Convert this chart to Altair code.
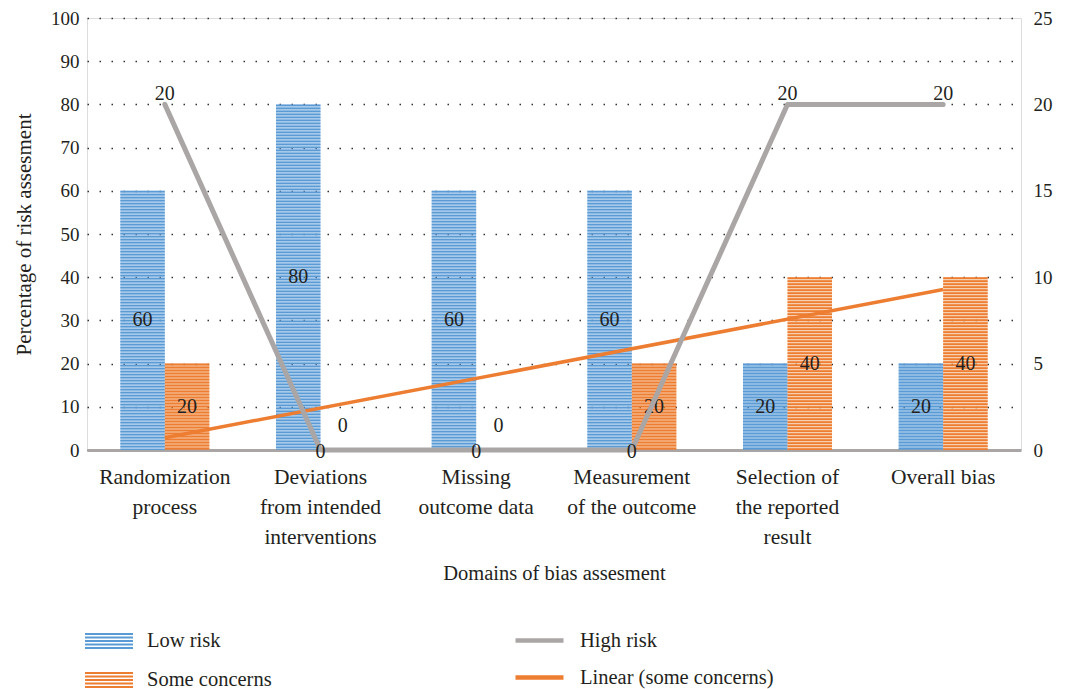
import json
import altair as alt
import pandas as pd

categories = [
    "Randomization process",
    "Deviations from intended interventions",
    "Missing outcome data",
    "Measurement of the outcome",
    "Selection of the reported result",
    "Overall bias",
]
label_lines = [
    ["Randomization", "process"],
    ["Deviations", "from intended", "interventions"],
    ["Missing", "outcome data"],
    ["Measurement", "of the outcome"],
    ["Selection of", "the reported", "result"],
    ["Overall bias"],
]
low_risk = [60, 80, 60, 60, 20, 20]
some_concerns = [20, 0, 0, 20, 40, 40]
high_risk = [20, 0, 0, 0, 20, 20]
bar_series = ["Low risk", "Some concerns"]
line_series = ["High risk", "Linear (some concerns)"]
left_ticks = [0, 10, 20, 30, 40, 50, 60, 70, 80, 90, 100]
right_ticks = [0, 5, 10, 15, 20, 25]

BLUE = "#5b9bd5"
ORANGE = "#ed7d31"
GRAY = "#aaa6a5"
FONT = "Liberation Serif"
TXT = "#231f20"

bars_df = pd.DataFrame({
    "cat": categories * 2,
    "series": [bar_series[0]] * 6 + [bar_series[1]] * 6,
    "value": low_risk + some_concerns,
    "idx": list(range(1, 7)) * 2,
})
hr_df = pd.DataFrame({"cat": categories, "hr": high_risk, "series": line_series[0]})

label_map = json.dumps(dict(zip(categories, label_lines)))

x_enc = alt.X(
    "cat:N",
    sort=categories,
    scale=alt.Scale(domain=categories, paddingInner=0.428, paddingOuter=0.214),
    axis=alt.Axis(
        title="Domains of bias assesment",
        labelExpr=f"{label_map}[datum.value]",
        labelAngle=0,
        labelFont=FONT, labelFontSize=21.5, labelColor=TXT, labelLineHeight=30,
        labelPadding=16, labelBaseline="top",
        titleFont=FONT, titleFontSize=20.5, titleColor=TXT, titleFontWeight="normal",
        titlePadding=16,
        domainColor=GRAY, domainWidth=3, ticks=False, grid=False,
    ),
)
xoff = alt.XOffset("series:N", sort=bar_series, scale=alt.Scale(domain=bar_series, paddingInner=0, paddingOuter=0))

y_left = alt.Y(
    "value:Q",
    scale=alt.Scale(domain=[0, 100]),
    axis=alt.Axis(
        values=left_ticks, grid=True, gridDash=[1.5, 10.5], gridColor="#333", gridWidth=1.3,
        domain=False, ticks=False, labelPadding=8,
        labelFont=FONT, labelFontSize=19, labelColor=TXT,
        title="Percentage of risk assesment",
        titleFont=FONT, titleFontSize=21, titleColor=TXT, titleFontWeight="normal", titlePadding=16,
    ),
)

bar_path = ("M-1.5,-0.5H1.5V-0.38H-1.5Z M-1.5,-0.28H1.5V-0.16H-1.5Z M-1.5,-0.06H1.5V0.06H-1.5Z "
            "M-1.5,0.16H1.5V0.28H-1.5Z M-1.5,0.38H1.5V0.5H-1.5Z")

bars = alt.Chart(bars_df).mark_bar(fillOpacity=0.38, strokeWidth=0).encode(
    x=x_enc, xOffset=xoff, y=y_left,
    fill=alt.Fill("series:N", sort=bar_series,
                  scale=alt.Scale(domain=bar_series, range=[BLUE, ORANGE]),
                  legend=alt.Legend(title=None, orient="none", legendX=6, legendY=607,
                                    symbolType=bar_path, symbolSize=1024, symbolOpacity=1,
                                    symbolStrokeWidth=0, labelFont=FONT, labelFontSize=20.5,
                                    labelColor=TXT, labelOffset=22, rowPadding=12, labelLimit=400)),
)

def stripes(name, color):
    return alt.Chart(bars_df).transform_filter(f"datum.series == '{name}'").mark_rule(
        strokeWidth=44.5, strokeDash=[1.8, 1.2], color=color, strokeCap="butt"
    ).encode(x=x_enc, xOffset=xoff, y=y_left, y2=alt.datum(0))

bar_labels = alt.Chart(bars_df).transform_calculate(
    ly="datum.value == 0 ? 5.5 : datum.value / 2"
).mark_text(font=FONT, fontSize=20, color=TXT, baseline="middle").encode(
    x=x_enc, xOffset=xoff, y=alt.Y("ly:Q", scale=alt.Scale(domain=[0, 100])),
    text=alt.Text("value:Q"),
)

line_legend = alt.Legend(title=None, orient="none", legendX=434, legendY=604,
                         symbolType="M-1.5,0H1.5", symbolSize=1024, symbolStrokeWidth=4.5,
                         labelFont=FONT, labelFontSize=20.5, labelColor=TXT, labelOffset=22,
                         rowPadding=8, labelLimit=400)
stroke_scale = alt.Scale(domain=line_series, range=[GRAY, ORANGE])

cat_arr = json.dumps(categories)
trend = alt.Chart(bars_df).transform_filter(
    f"datum.series == '{bar_series[1]}'"
).transform_regression("idx", "value").transform_calculate(
    cat=f"{cat_arr}[round(datum.idx) - 1]", series=f"'{line_series[1]}'"
).mark_line(strokeWidth=3.5).encode(
    x=x_enc, y=y_left,
    stroke=alt.Stroke("series:N", sort=line_series, scale=stroke_scale, legend=line_legend),
)

left = alt.layer(bars, stripes(bar_series[0], BLUE), stripes(bar_series[1], ORANGE), trend, bar_labels)

y_right = alt.Y(
    "hr:Q",
    scale=alt.Scale(domain=[0, 25]),
    axis=alt.Axis(orient="right", values=right_ticks, grid=False, domain=False, ticks=False,
                  labelPadding=12, labelFont=FONT, labelFontSize=19, labelColor=TXT, title=None),
)

hr_line = alt.Chart(hr_df).mark_line(strokeWidth=5, strokeCap="round", strokeJoin="round").encode(
    x=x_enc, y=y_right,
    stroke=alt.Stroke("series:N", sort=line_series, scale=stroke_scale, legend=line_legend),
)
hr_lab_hi = alt.Chart(hr_df).transform_filter("datum.hr > 0").mark_text(
    font=FONT, fontSize=20, color=TXT, baseline="middle", dy=-10
).encode(x=x_enc, y=y_right, text="hr:Q")
hr_lab_lo = alt.Chart(hr_df).transform_filter("datum.hr == 0").mark_text(
    font=FONT, fontSize=20, color=TXT, baseline="middle", dy=2
).encode(x=x_enc, y=y_right, text="hr:Q")

right = alt.layer(hr_line, hr_lab_hi, hr_lab_lo)

chart = alt.layer(left, right).resolve_scale(y="independent").properties(
    width=934, height=432, padding={"left": 13, "top": 9, "right": 5, "bottom": 0}
).configure_view(stroke=None).configure(background="white")

chart.save("out.html", embed_options={"renderer": "svg", "actions": False})
